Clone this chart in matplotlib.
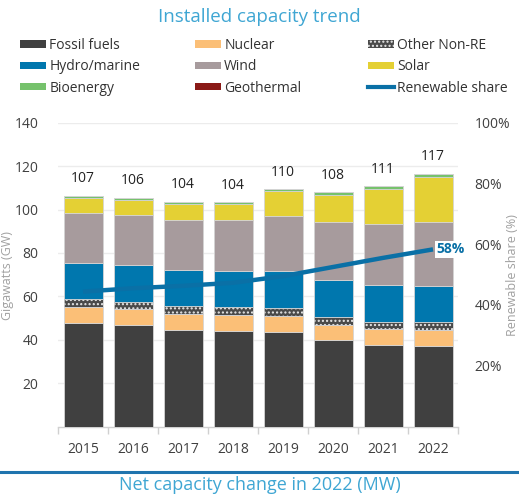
import matplotlib
matplotlib.use('Agg')
import matplotlib.pyplot as plt
from matplotlib.lines import Line2D
from matplotlib.patches import Patch
from matplotlib.ticker import FuncFormatter
import numpy as np

plt.rcParams['font.family'] = ['Open Sans', 'DejaVu Sans']
plt.rcParams['hatch.linewidth'] = 1.0

years = ['2015', '2016', '2017', '2018', '2019', '2020', '2021', '2022']
fossil = [47.6, 46.6, 44.6, 44.1, 43.7, 39.7, 37.7, 37.2]
nuclear = [7.3, 7.4, 7.2, 7.3, 7.4, 7.2, 7.2, 7.3]
other_non_re = [3.7, 3.5, 3.9, 3.5, 3.6, 3.6, 3.4, 3.7]
hydro = [16.7, 16.9, 16.6, 16.9, 16.8, 17.0, 16.9, 16.5]
wind = [22.9, 22.9, 23.0, 23.2, 25.5, 26.7, 28.3, 29.5]
solar = [7.2, 7.2, 7.2, 7.4, 11.4, 12.6, 15.9, 20.8]
bioenergy = [0.9, 0.9, 1.0, 0.9, 0.9, 1.1, 1.4, 1.4]
geothermal = [0, 0, 0, 0, 0, 0, 0, 0]
totals = [107, 106, 104, 104, 110, 108, 111, 117]
renewable_share = [44.4, 45.5, 46.3, 47.3, 49.5, 52.5, 55.5, 58.3]
last_label = '58%'

C_FOSSIL = '#404040'
C_NUC = '#FBBF77'
C_OTHER = '#4a4a4a'
C_HYDRO = '#0077AE'
C_WIND = '#A79B9D'
C_SOLAR = '#E4D034'
C_BIO = '#76C26C'
C_GEO = '#8A1A17'
C_LINE = '#0A70A6'
C_TITLE = '#3FA6D3'

fig = plt.figure(figsize=(5.19, 4.96), dpi=100)
ax = fig.add_axes([58/519, 1-426.5/496, 400/519, (426.5-122.7)/496])

x = np.arange(len(years))
w = 0.78
series = [
    ('Fossil fuels', fossil, C_FOSSIL, None),
    ('Nuclear', nuclear, C_NUC, None),
    ('Other Non-RE', other_non_re, C_OTHER, '....'),
    ('Hydro/marine', hydro, C_HYDRO, None),
    ('Wind', wind, C_WIND, None),
    ('Solar', solar, C_SOLAR, None),
    ('Bioenergy', bioenergy, C_BIO, None),
    ('Geothermal', geothermal, C_GEO, None),
]
bottom = np.zeros(len(years))
handles = {}
for name, vals, col, hatch in series:
    vals = np.array(vals, dtype=float)
    if hatch:
        ax.bar(x, vals, w, bottom=bottom, color=col, hatch=hatch,
               edgecolor='#e8e8e8', linewidth=0, zorder=3)
        ax.bar(x, vals, w, bottom=bottom, facecolor='none',
               edgecolor='#cfcfcf', linewidth=0.6, zorder=3)
    else:
        ax.bar(x, vals, w, bottom=bottom, color=col,
               edgecolor='#d4d4d4', linewidth=0.6, zorder=3)
    handles[name] = Patch(facecolor=col, hatch=hatch, edgecolor='#e8e8e8' if hatch else col, linewidth=0)
    bottom = bottom + vals

for i, (b, t) in enumerate(zip(bottom, totals)):
    ax.annotate(str(t), (x[i], b), xytext=(0, 17), textcoords='offset pixels',
                ha='center', va='center', fontsize=10, color='#222222')

ax.set_xlim(-0.5, len(years) - 0.5)
ax.set_ylim(0, 140)
ax.set_yticks([20, 40, 60, 80, 100, 120, 140])
ax.tick_params(axis='y', length=0, labelsize=10, labelcolor='#404040', pad=14)
ax.set_xticks(x)
ax.set_xticklabels(years)
ax.tick_params(axis='x', length=0, labelsize=10, labelcolor='#404040', pad=11)
ax.set_xticks(np.arange(len(years) + 1) - 0.5, minor=True)
ax.tick_params(axis='x', which='minor', length=5, color='#d0d0d0', width=1)
ax.grid(axis='y', color='#ececec', linewidth=1, zorder=0)
for s in ['top', 'right', 'left']:
    ax.spines[s].set_visible(False)
ax.spines['bottom'].set_color('#d0d0d0')
ax.spines['bottom'].set_linewidth(1)

ax2 = ax.twinx()
ax2.set_ylim(0, 100)
ax2.set_yticks([20, 40, 60, 80, 100])
ax2.yaxis.set_major_formatter(FuncFormatter(lambda v, p: f'{int(v)}%'))
ax2.tick_params(axis='y', length=0, labelsize=10, labelcolor='#404040', pad=12)
for s in ax2.spines.values():
    s.set_visible(False)
ax2.plot(x, renewable_share, color=C_LINE, linewidth=3.2,
         solid_capstyle='butt', zorder=5)
ax2.annotate(last_label, (x[-1], renewable_share[-1]), xytext=(3, 0),
             textcoords='offset pixels', ha='left', va='center',
             fontsize=10, fontweight='bold', color=C_LINE,
             bbox=dict(boxstyle='square,pad=0.1', fc='white', ec='none'))

fig.text(8/519, 1-276/496, 'Gigawatts (GW)', rotation=90, ha='center', va='center',
         fontsize=9, color='#a0a0a0')
fig.text(512/519, 1-275/496, 'Renewable share (%)', rotation=90, ha='center', va='center',
         fontsize=9, color='#a0a0a0')

fig.text(0.5, 1-17/496, 'Installed capacity trend', ha='center', va='center',
         fontsize=13.5, color=C_TITLE)

line_handle = Line2D([0], [0], color=C_LINE, linewidth=3)
cols = [
    (['Fossil fuels', 'Hydro/marine', 'Bioenergy'], 20),
    (['Nuclear', 'Wind', 'Geothermal'], 195),
    (['Other Non-RE', 'Solar', 'Renewable share'], 368),
]
for labels, xpos in cols:
    hs = [line_handle if l == 'Renewable share' else handles[l] for l in labels]
    fig.legend(hs, labels, loc='upper left', bbox_to_anchor=(xpos/519, 1-38/496),
               frameon=False, borderpad=0, borderaxespad=0, handlelength=1.9,
               handleheight=0.45, handletextpad=0.2, labelspacing=0.45,
               fontsize=10, labelcolor='#333333')

fig.add_artist(Line2D([0, 1], [1-472/496, 1-472/496], color='#1F74AE', linewidth=2.2,
                      transform=fig.transFigure))
fig.text(0.5, 1-485/496, 'Net capacity change in 2022 (MW)', ha='center', va='center',
         fontsize=13, color=C_TITLE)

fig.savefig('out.png', dpi=100)
